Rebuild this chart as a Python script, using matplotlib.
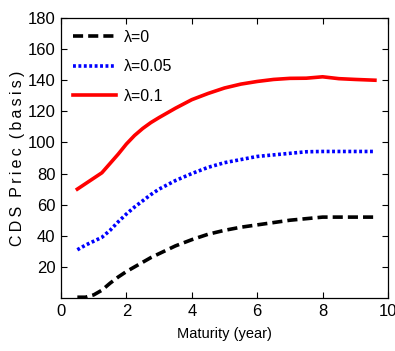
import matplotlib
matplotlib.use("Agg")
import matplotlib.pyplot as plt

plt.rcParams['font.family'] = ['Liberation Sans', 'DejaVu Sans']

maturity = [0.5, 0.75, 1.0, 1.25, 1.5, 1.75, 2.0, 2.25, 2.5, 2.75, 3.0, 3.5, 4.0,
            4.5, 5.0, 5.5, 6.0, 6.5, 7.0, 7.5, 8.0, 8.5, 9.0, 9.6]
cds_l0 = [0.5, 0.5, 2, 5, 9.5, 13.5, 17, 20, 23, 26, 28.5, 33.5, 37.5,
          41, 43.5, 45.5, 47, 48.5, 50, 51, 52, 52, 52, 52]
cds_l005 = [31, 34, 36.5, 39, 43.5, 49, 54, 58.5, 62.5, 66.5, 70, 75.5, 80,
            84, 87, 89, 91, 92, 93, 94, 94.2, 94.2, 94.2, 94.2]
cds_l01 = [70, 73.5, 77, 80.5, 86.5, 92.5, 99, 104.5, 109, 112.8, 116, 122, 127.5,
           131.5, 135, 137.5, 139.2, 140.5, 141.2, 141.3, 142.2, 141, 140.5, 140]
labels = ['λ=0', 'λ=0.05', 'λ=0.1']
xticks = [0, 2, 4, 6, 8, 10]
yticks = [20, 40, 60, 80, 100, 120, 140, 160, 180]

fig = plt.figure(figsize=(3.95, 3.51), dpi=100)
ax = fig.add_axes([61/395, 1-298/351, (388-61)/395, (298-18)/351])

ax.plot(maturity, cds_l0, color='black', lw=2.6, ls=(0, (2.8, 1.4)), label=labels[0])
ax.plot(maturity, cds_l005, color='#0000ff', lw=2.6, ls=(0, (0.8, 0.7)), label=labels[1])
ax.plot(maturity, cds_l01, color='#ff0000', lw=2.6, ls='-', label=labels[2])

ax.set_xlim(0, 10)
ax.set_ylim(0, 180)
ax.set_xticks(xticks)
ax.set_yticks(yticks)
ax.tick_params(direction='in', top=True, right=True, length=4, width=0.8,
               labelsize=12, pad=4)
for s in ax.spines.values():
    s.set_linewidth(0.9)

ax.set_xlabel('Maturity (year)', fontsize=10.5, labelpad=6)
ylab = '\u2009'.join('CDS') + '  ' + '\u2009'.join('Priec') + '  ' + '\u2009'.join('(basis)')
ax.set_ylabel(ylab, fontsize=11.5, labelpad=2)

leg = ax.legend(loc='upper left', frameon=False, fontsize=11.5, handlelength=2.7,
                labelspacing=0.9, handletextpad=0.5, borderaxespad=0.35)

fig.savefig('out.png', dpi=100)
